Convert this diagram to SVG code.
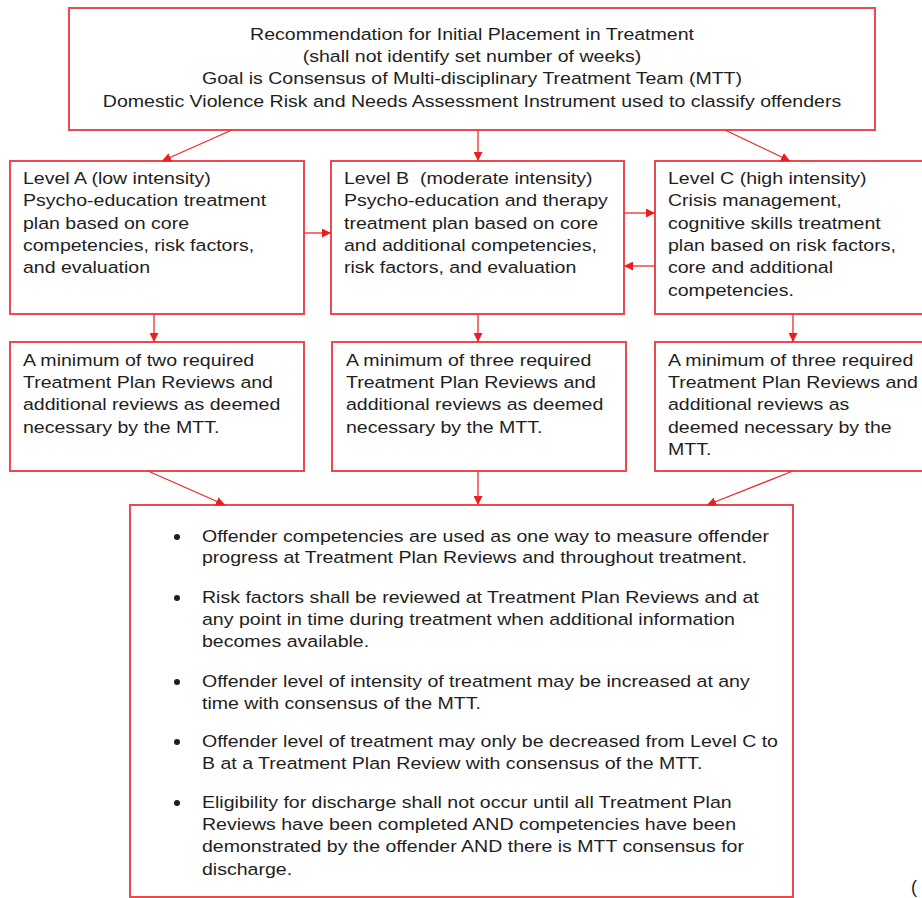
<svg xmlns="http://www.w3.org/2000/svg" width="922" height="898" viewBox="0 0 922 898">
<defs>
<marker id="ah" viewBox="0 0 10 10" refX="10" refY="5" markerWidth="9" markerHeight="9" markerUnits="userSpaceOnUse" orient="auto">
<path d="M0,0 L10,5 L0,10 Z" fill="#ee1c1c"/>
</marker>
<style>
.box{fill:#ffffff;stroke:#ec4a50;stroke-width:2}
.t{font-family:"Liberation Sans",Arial,sans-serif;font-size:17px;fill:#1e1e1e}
.c{text-anchor:middle}
.con{stroke:#ee2a2a;stroke-width:1.3;fill:none;marker-end:url(#ah)}
</style>
</defs>
<rect width="922" height="898" fill="#ffffff"/>
<g id="top">
<rect class="box" x="69" y="8" width="806" height="122"/>
<g transform="translate(472,0) scale(1.15,1)">
<text class="t c" x="0" y="40">Recommendation for Initial Placement in Treatment</text>
<text class="t c" x="0" y="62">(shall not identify set number of weeks)</text>
<text class="t c" x="0" y="84">Goal is Consensus of Multi-disciplinary Treatment Team (MTT)</text>
<text class="t c" x="0" y="107">Domestic Violence Risk and Needs Assessment Instrument used to classify offenders</text>
</g>
</g>
<g id="levelA">
<rect class="box" x="10" y="161" width="294" height="153"/>
<g transform="translate(23,0) scale(1.15,1)">
<text class="t" x="0" y="184">Level A (low intensity)</text>
<text class="t" x="0" y="206">Psycho-education treatment</text>
<text class="t" x="0" y="229">plan based on core</text>
<text class="t" x="0" y="251">competencies, risk factors,</text>
<text class="t" x="0" y="273">and evaluation</text>
</g>
</g>
<g id="levelB">
<rect class="box" x="331" y="161" width="293" height="153"/>
<g transform="translate(344,0) scale(1.15,1)">
<text class="t" x="0" y="184" xml:space="preserve">Level B  (moderate intensity)</text>
<text class="t" x="0" y="206">Psycho-education and therapy</text>
<text class="t" x="0" y="229">treatment plan based on core</text>
<text class="t" x="0" y="251">and additional competencies,</text>
<text class="t" x="0" y="273">risk factors, and evaluation</text>
</g>
</g>
<g id="levelC">
<rect class="box" x="655" y="161" width="280" height="153"/>
<g transform="translate(668,0) scale(1.15,1)">
<text class="t" x="0" y="184">Level C (high intensity)</text>
<text class="t" x="0" y="206">Crisis management,</text>
<text class="t" x="0" y="229">cognitive skills treatment</text>
<text class="t" x="0" y="251">plan based on risk factors,</text>
<text class="t" x="0" y="273">core and additional</text>
<text class="t" x="0" y="296">competencies.</text>
</g>
</g>
<g id="reviewA">
<rect class="box" x="10" y="342" width="294" height="129"/>
<g transform="translate(23,0) scale(1.15,1)">
<text class="t" x="0" y="366">A minimum of two required</text>
<text class="t" x="0" y="388">Treatment Plan Reviews and</text>
<text class="t" x="0" y="410">additional reviews as deemed</text>
<text class="t" x="0" y="433">necessary by the MTT.</text>
</g>
</g>
<g id="reviewB">
<rect class="box" x="332" y="342" width="294" height="129"/>
<g transform="translate(346,0) scale(1.15,1)">
<text class="t" x="0" y="366">A minimum of three required</text>
<text class="t" x="0" y="388">Treatment Plan Reviews and</text>
<text class="t" x="0" y="410">additional reviews as deemed</text>
<text class="t" x="0" y="433">necessary by the MTT.</text>
</g>
</g>
<g id="reviewC">
<rect class="box" x="655" y="342" width="280" height="129"/>
<g transform="translate(668,0) scale(1.15,1)">
<text class="t" x="0" y="366">A minimum of three required</text>
<text class="t" x="0" y="388">Treatment Plan Reviews and</text>
<text class="t" x="0" y="410">additional reviews as</text>
<text class="t" x="0" y="433">deemed necessary by the</text>
<text class="t" x="0" y="455">MTT.</text>
</g>
</g>
<g id="rules">
<rect class="box" x="130" y="505" width="663" height="392"/>
<g fill="#1e1e1e">
<circle cx="177" cy="537" r="3"/>
<circle cx="177" cy="598" r="3"/>
<circle cx="177" cy="682" r="3"/>
<circle cx="177" cy="742" r="3"/>
<circle cx="177" cy="803" r="3"/>
</g>
<g transform="translate(202,0) scale(1.15,1)">
<text class="t" x="0" y="542">Offender competencies are used as one way to measure offender</text>
<text class="t" x="0" y="563">progress at Treatment Plan Reviews and throughout treatment.</text>
<text class="t" x="0" y="603">Risk factors shall be reviewed at Treatment Plan Reviews and at</text>
<text class="t" x="0" y="625">any point in time during treatment when additional information</text>
<text class="t" x="0" y="647">becomes available.</text>
<text class="t" x="0" y="687">Offender level of intensity of treatment may be increased at any</text>
<text class="t" x="0" y="709">time with consensus of the MTT.</text>
<text class="t" x="0" y="747">Offender level of treatment may only be decreased from Level C to</text>
<text class="t" x="0" y="769">B at a Treatment Plan Review with consensus of the MTT.</text>
<text class="t" x="0" y="808">Eligibility for discharge shall not occur until all Treatment Plan</text>
<text class="t" x="0" y="830">Reviews have been completed AND competencies have been</text>
<text class="t" x="0" y="852">demonstrated by the offender AND there is MTT consensus for</text>
<text class="t" x="0" y="875">discharge.</text>
</g>
</g>
<g id="connectors">
<line class="con" x1="232" y1="130" x2="162" y2="161"/>
<line class="con" x1="478" y1="130" x2="478" y2="161"/>
<line class="con" x1="725" y1="130" x2="790" y2="161"/>
<line class="con" x1="304" y1="233" x2="331" y2="233"/>
<line class="con" x1="624" y1="213" x2="655" y2="213"/>
<line class="con" x1="655" y1="266" x2="624" y2="266"/>
<line class="con" x1="154" y1="314" x2="154" y2="342"/>
<line class="con" x1="478" y1="314" x2="478" y2="342"/>
<line class="con" x1="793" y1="314" x2="793" y2="342"/>
<line class="con" x1="148" y1="471" x2="225" y2="505"/>
<line class="con" x1="478" y1="471" x2="478" y2="505"/>
<line class="con" x1="793" y1="471" x2="707" y2="505"/>
</g>
<text class="t" x="911" y="893" style="font-size:18px">(</text>
</svg>
